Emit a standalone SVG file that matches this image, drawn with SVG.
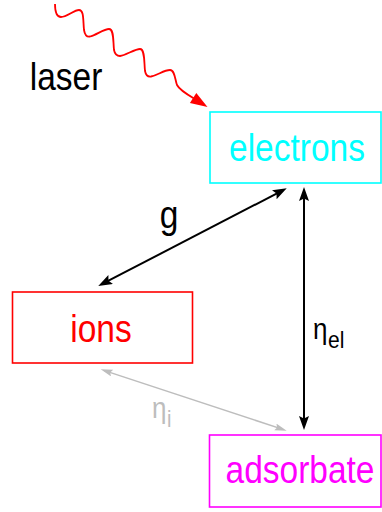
<svg xmlns="http://www.w3.org/2000/svg" width="382" height="512" viewBox="0 0 382 512">
<style>
.lbl{font-family:"Liberation Sans",Arial,sans-serif;font-size:33.5px;text-anchor:middle}
.sym{font-family:"Liberation Sans",Arial,sans-serif}
.box{fill:#ffffff;stroke-width:1.6}
</style>
<defs>
<marker id="ab" markerUnits="userSpaceOnUse" markerWidth="16" markerHeight="12" refX="9" refY="5" orient="auto-start-reverse">
<path d="M0,0 L14,5 L0,10 L2.5,5 z" fill="#000"/>
</marker>
<marker id="ag" markerUnits="userSpaceOnUse" markerWidth="14" markerHeight="10" refX="8" refY="3.5" orient="auto-start-reverse">
<path d="M0,0 L12,3.5 L0,7 L2,3.5 z" fill="#bdbdbd"/>
</marker>
</defs>
<rect width="382" height="512" fill="#ffffff"/>
<g id="laser">
<path d="M55,4 C55,10 56,17 61,17 C67,17 74,10 79,10 C84,10 83,20 84,30 C85,36 87,37 90,36.5 C96,35 104,29 109,29 C114,29 113,40 114,50 C115,55 117,56 120,56 C126,55 135,49 140,49 C145,49 144,62 145,71 C146,76 148,77 151,76.5 C158,75 164,70 170,70 C175,70 175,80 177,85 C179,89 183,92 194,98.5" fill="none" stroke="#ff0000" stroke-width="1.8"/>
<polygon points="207.5,107 196.3,92.9 189.9,103.1" fill="#ff0000"/>
<text class="lbl" transform="translate(66,90) scale(1,1.16)" fill="#000">laser</text>
</g>
<g id="electrons">
<rect class="box" x="210" y="112" width="171" height="71" stroke="#00ffff"/>
<text class="lbl" transform="translate(297,161) scale(1,1.16)" fill="#00ffff">electrons</text>
</g>
<g id="ions">
<rect class="box" x="12.5" y="292" width="180" height="71" stroke="#ff0000"/>
<text class="lbl" transform="translate(101,342) scale(1,1.16)" fill="#ff0000">ions</text>
</g>
<g id="adsorbate">
<rect class="box" x="209.5" y="435" width="171.5" height="72" stroke="#ff00ff"/>
<text class="lbl" transform="translate(300,483) scale(1,1.16)" fill="#ff00ff">adsorbate</text>
</g>
<g id="connectors">
<line x1="282.3" y1="190.6" x2="102.7" y2="283.7" stroke="#000" stroke-width="2" marker-start="url(#ab)" marker-end="url(#ab)"/>
<line x1="304" y1="192" x2="304" y2="425" stroke="#000" stroke-width="2" marker-start="url(#ab)" marker-end="url(#ab)"/>
<line x1="104.5" y1="370.6" x2="282.9" y2="429.4" stroke="#bdbdbd" stroke-width="1.5" marker-start="url(#ag)" marker-end="url(#ag)"/>
<text class="lbl" transform="translate(169,228) scale(1,1.16)" fill="#000">g</text>
<text class="sym" transform="translate(313,339) scale(1,1.16)" font-size="26" fill="#000">η</text>
<text class="sym" transform="translate(328,348) scale(1,1.16)" font-size="21" fill="#000">el</text>
<text class="sym" transform="translate(152,418) scale(1,1.16)" font-size="26" fill="#bdbdbd">η</text>
<text class="sym" transform="translate(167,427) scale(1,1.16)" font-size="20" fill="#bdbdbd">i</text>
</g>
</svg>
